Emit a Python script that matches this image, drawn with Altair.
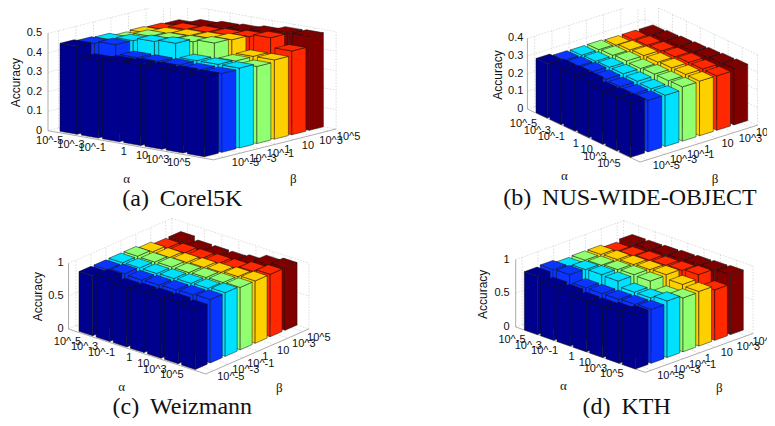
import altair as alt
import pandas as pd

ALPHA_LABELS = ["10^-5", "10^-3", "10^-1", "1", "10", "10^3", "10^5"]
BETA_LABELS = ["10^-5", "10^-3", "10^-1", "1", "10", "10^3", "10^5"]
BETA_COLORS = ["#00008f", "#0a35ff", "#00e0ff", "#90ff70", "#ffd000", "#ff2800", "#800000"]

COREL = [
    [.452, .445, .44, .425, .43, .425, .42],
    [.40, .457, .455, .455, .445, .445, .44],
    [.41, .41, .47, .46, .455, .45, .45],
    [.415, .41, .48, .465, .46, .455, .455],
    [.415, .41, .41, .478, .472, .465, .465],
    [.415, .405, .41, .405, .406, .479, .48],
    [.413, .405, .41, .396, .407, .43, .483],
]
NUS = [
    [.307, .296, .294, .295, .29, .29, .289],
    [.317, .30, .297, .30, .30, .295, .295],
    [.319, .305, .30, .305, .305, .30, .30],
    [.319, .30, .30, .30, .305, .305, .305],
    [.30, .295, .295, .305, .31, .31, .31],
    [.304, .292, .29, .305, .31, .31, .315],
    [.307, .292, .29, .307, .309, .308, .319],
]
WEIZ = [
    [.91, .91, .914, .914, .88, .84, .843],
    [.95, .93, .92, .91, .88, .85, .80],
    [.90, .92, .92, .92, .89, .85, .80],
    [.914, .93, .93, .92, .90, .86, .80],
    [.92, .94, .94, .93, .91, .87, .83],
    [.93, .95, .95, .94, .93, .91, .91],
    [.914, .965, .97, .95, .95, .95, .95],
]
KTH = [
    [.866, .88, .84, .85, .85, .81, .84],
    [.80, .89, .88, .86, .86, .83, .84],
    [.78, .78, .89, .88, .87, .85, .85],
    [.75, .78, .88, .89, .88, .86, .86],
    [.75, .78, .80, .88, .89, .87, .87],
    [.77, .79, .80, .76, .83, .89, .88],
    [.807, .80, .84, .80, .81, .75, .89],
]
Z_TICKS_A = [0, .1, .2, .3, .4, .5]
Z_TICKS_B = [0, .1, .2, .3, .4]
Z_TICKS_C = [0, .5, 1]
Z_LABELS_A = ["0", "0.1", "0.2", "0.3", "0.4", "0.5"]
Z_LABELS_B = ["0", "0.1", "0.2", "0.3", "0.4"]
Z_LABELS_C = ["0", "0.5", "1"]

BAR_W = 0.8
GAP = "\u00a0\u2009"


def panel(title, values, zt, zl, view, g):
    x0, y0, x1, y1 = view
    ox, oy = g["crop"]

    def proj(u, v, z=0.0):
        return (
            ox + (g["O"][0] + u * g["A"][0] + v * g["B"][0]) / 3,
            oy + (g["O"][1] + u * g["A"][1] + v * g["B"][1] - z * g["Z"]) / 3,
        )

    u0, u1, v0, v1 = g["lims"]
    zmax = zt[-1]

    faces = []
    fid = 0
    for i in range(7):
        for j in range(6, -1, -1):
            z = values[i][j]
            u, v = i, j
            polys = [
                [(u, v, 0), (u + BAR_W, v, 0), (u + BAR_W, v, z), (u, v, z)],
                [(u + BAR_W, v, 0), (u + BAR_W, v + BAR_W, 0), (u + BAR_W, v + BAR_W, z), (u + BAR_W, v, z)],
                [(u, v, z), (u + BAR_W, v, z), (u + BAR_W, v + BAR_W, z), (u, v + BAR_W, z)],
            ]
            for poly in polys:
                fid += 1
                for k, p in enumerate(poly + [poly[0]]):
                    sx, sy = proj(*p)
                    faces.append(dict(face=fid, k=k, x=sx, y=sy, beta=j, alpha=i, accuracy=z))
    df = pd.DataFrame(faces)

    grid = []

    def seg(store, a, b):
        pa, pb = proj(*a), proj(*b)
        store.append(dict(x=pa[0], y=pa[1], x2=pb[0], y2=pb[1]))

    for z in zt:
        seg(grid, (u0, v0, z), (u0, v1, z))
        seg(grid, (u0, v1, z), (u1, v1, z))
    for t in range(7):
        seg(grid, (t + .4, v1, 0), (t + .4, v1, zmax))
        seg(grid, (u0, t + .4, 0), (u0, t + .4, zmax))
        seg(grid, (t + .4, v0, 0), (t + .4, v1, 0))
        seg(grid, (u0, t + .4, 0), (u1, t + .4, 0))
    seg(grid, (u1, v1, 0), (u1, v1, zmax))
    seg(grid, (u0, v1, 0), (u0, v1, zmax))
    gdf = pd.DataFrame(grid)

    axes = []
    seg(axes, (u0, v0, 0), (u1, v0, 0))
    seg(axes, (u1, v0, 0), (u1, v1, 0))
    seg(axes, (u0, v0, 0), (u0, v0, zmax))
    adf = pd.DataFrame(axes)

    xs = alt.Scale(domain=[x0, x1], nice=False, zero=False)
    ys = alt.Scale(domain=[y1, y0], nice=False, zero=False)
    X = alt.X("x:Q", scale=xs, axis=None)
    Y = alt.Y("y:Q", scale=ys, axis=None)

    rule_enc = dict(x=X, y=Y, x2="x2:Q", y2="y2:Q")
    grid_l = alt.Chart(gdf).mark_rule(color="#c4c4c4", strokeWidth=0.6, strokeDash=[1.5, 1.5], clip=True).encode(**rule_enc)
    axis_l = alt.Chart(adf).mark_rule(color="#8a8a8a", strokeWidth=0.7, clip=True).encode(**rule_enc)
    bars = (
        alt.Chart(df)
        .mark_line(filled=True, stroke="#101010", strokeWidth=0.5, interpolate="linear")
        .encode(
            x=X,
            y=Y,
            detail="face:O",
            order="k:Q",
            fill=alt.Fill("beta:O", scale=alt.Scale(domain=list(range(7)), range=BETA_COLORS), legend=None),
        )
    )

    alpha_rows, beta_rows, z_rows = [], [], []
    for t, lab in enumerate(ALPHA_LABELS):
        sx, sy = proj(t + .4, v0)
        alpha_rows.append(dict(x=sx + g["alab"][0], y=sy + g["alab"][1], t=lab))
    for t, lab in enumerate(BETA_LABELS):
        sx, sy = proj(u1, t + .4)
        beta_rows.append(dict(x=sx + g["blab"][0], y=sy + g["blab"][1], t=lab))
    for z, lab in zip(zt, zl):
        sx, sy = proj(u0, v0, z)
        z_rows.append(dict(x=sx + g["zlab"], y=sy, t=lab))

    def crop(p):
        return ox + p[0] / 3, oy + p[1] / 3

    ca, cb, ct, cy = crop(g["a_title"]), crop(g["b_title"]), crop(g["title"]), crop(g["acc"])
    tick = dict(font="Liberation Sans", fontSize=11, color="#111", baseline="middle")
    text_enc = dict(x=X, y=Y, text="t:N")
    layers = [grid_l, axis_l, bars]
    layers.append(alt.Chart(pd.DataFrame(alpha_rows + z_rows)).mark_text(align="right", **tick).encode(**text_enc))
    layers.append(alt.Chart(pd.DataFrame(beta_rows)).mark_text(align="left", clip=True, **tick).encode(**text_enc))
    layers.append(
        alt.Chart(pd.DataFrame([dict(x=ca[0], y=ca[1], t="α"), dict(x=cb[0], y=cb[1], t="β")]))
        .mark_text(font="Liberation Serif", fontSize=13, color="#111", baseline="middle", align="center")
        .encode(**text_enc)
    )
    layers.append(
        alt.Chart(pd.DataFrame([dict(x=cy[0], y=cy[1], t="Accuracy")]))
        .mark_text(font="Liberation Sans", fontSize=12, color="#111", baseline="middle", align="center", angle=270)
        .encode(**text_enc)
    )
    layers.append(
        alt.Chart(pd.DataFrame([dict(x=ct[0], y=ct[1], t=title)]))
        .mark_text(font="Liberation Serif", fontSize=24, color="#111", baseline="middle", align="center", clip=True)
        .encode(**text_enc)
    )
    return alt.layer(*layers).properties(width=x1 - x0, height=y1 - y0)


GEOM_A = dict(crop=(0, 0), O=(180, 394), A=(63.7, 11.2), B=(52.5, -13.2), Z=584, lims=(-.4, 7.4, -.2, 6.8),
              alab=(-1.7, 7.3), blab=(7.7, 6), zlab=-6, a_title=(380, 537), b_title=(880, 537),
              title=(547, 597), acc=(48, 248))
GEOM_B = dict(crop=(470, 0), O=(198, 338), A=(41.8, 19.7), B=(51.6, -16.2), Z=530, lims=(-.58, 7.5, -.03, 6.8),
              alab=(-4, 8.7), blab=(5.3, 6), zlab=-4, a_title=(283, 527), b_title=(735, 537),
              title=(480, 595), acc=(85, 225))
GEOM_C = dict(crop=(0, 215), O=(237, 349), A=(51.3, 16.8), B=(44.9, -19.6), Z=197, lims=(-.525, 7.5, -.1, 6.8),
              alab=(-3.3, 7.3), blab=(4, 6), zlab=-5, a_title=(365, 517), b_title=(838, 520),
              title=(547, 575), acc=(115, 245))
GEOM_D = dict(crop=(470, 215), O=(163, 345), A=(49, 17.2), B=(47.6, -17.2), Z=202, lims=(-.53, 7.4, 0, 6.8),
              alab=(-5.3, 7.7), blab=(5.7, 6), zlab=-6, a_title=(280, 513), b_title=(748, 518),
              title=(470, 575), acc=(38, 238))

a = panel(f"(a){GAP}Corel5K", COREL, Z_TICKS_A, Z_LABELS_A, (8, 8, 470, 215), GEOM_A)
b = panel(f"(b){GAP}NUS-WIDE-OBJECT", NUS, Z_TICKS_B, Z_LABELS_B, (470, 8, 767, 215), GEOM_B)
c = panel(f"(c){GAP}Weizmann", WEIZ, Z_TICKS_C, Z_LABELS_C, (8, 215, 470, 418), GEOM_C)
d = panel(f"(d){GAP}KTH", KTH, Z_TICKS_C, Z_LABELS_C, (470, 215, 767, 418), GEOM_D)

chart = (
    alt.vconcat(alt.hconcat(a, b, spacing=0), alt.hconcat(c, d, spacing=0), spacing=0)
    .properties(padding=0, background="white")
    .configure_view(stroke=None)
    .configure_concat(spacing=0)
)
chart.save("out.html", embed_options={"renderer": "svg", "actions": False})
